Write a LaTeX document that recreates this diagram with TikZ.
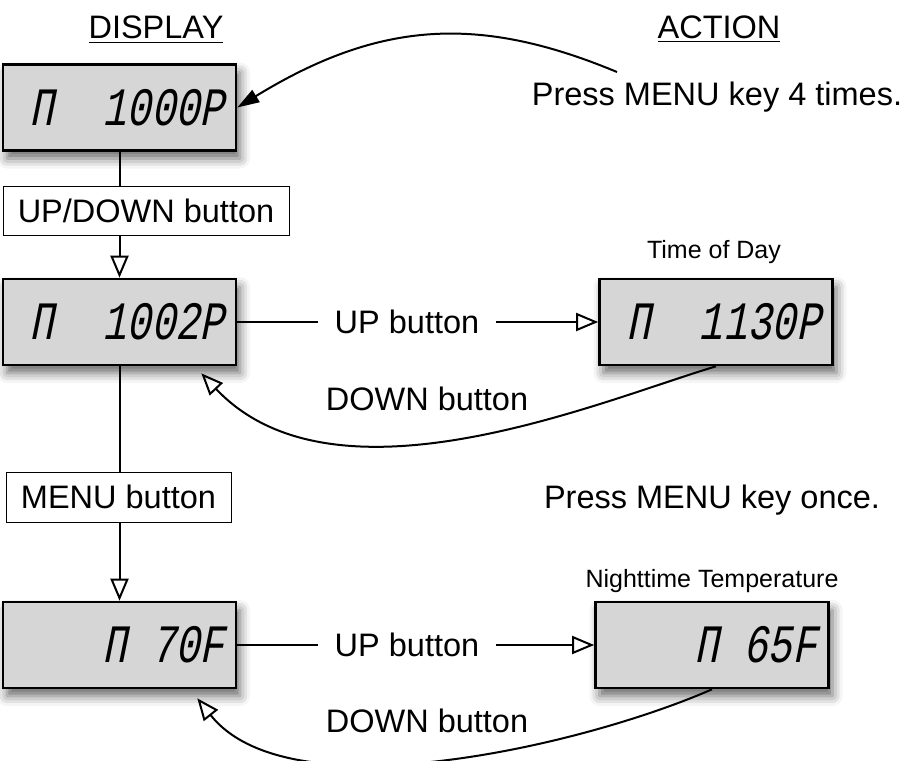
\documentclass[tikz,border=0pt]{standalone}
\usepackage{fontspec}
\setmainfont{Liberation Sans}
\newfontfamily\lcdfont[FakeSlant=0.2,FakeStretch=0.75]{Liberation Mono}
\usetikzlibrary{positioning,arrows.meta,shadows.blur}
\definecolor{lcdgray}{RGB}{214,214,214}

\begin{document}
\begin{tikzpicture}[x=0.5pt, y=-0.5pt, line width=1pt,
    lcd/.style={draw, line width=1.3pt, fill=lcdgray, minimum width=116.5pt, minimum height=43pt,
      text width=104.5pt, align=right, inner sep=0pt, font=\lcdfont\fontsize{27}{28}\selectfont,
      blur shadow={shadow xshift=2pt, shadow yshift=-4pt, shadow blur radius=5pt, shadow opacity=60}},
    btn/.style={draw, line width=0.5pt, fill=white, inner sep=0pt, font=\fontsize{16.25}{19}\selectfont},
    txt/.style={inner xsep=8pt, font=\fontsize{16.25}{19}\selectfont},
    small/.style={font=\fontsize{12.5}{15}\selectfont},
    openarr/.style={-{Triangle[open,length=11pt,width=9pt]}},
    solidarr/.style={-{Triangle[length=11pt,width=7pt]}}]
    \useasboundingbox (0,0) rectangle (904,760);

    \node[txt, anchor=base] (dtitle) at (156,39) {\underline{DISPLAY}};
    \node[txt, anchor=base] (atitle) at (719,38) {\underline{ACTION}};

    \node[lcd] (disp1) at (119.5,107.5) {Π\phantom{00}1000P};
    \node[lcd] (disp2) at (119.5,322) {Π\phantom{00}1002P};
    \node[lcd] (disp3) at (716,322) {Π\phantom{00}1130P};
    \node[lcd] (disp4) at (119.5,645) {Π\phantom{0}70F};
    \node[lcd] (disp5) at (712,645) {Π\phantom{0}65F};

    \node[btn, minimum width=143pt, minimum height=24.5pt] (updown) at (146,210.5) {UP/DOWN button};
    \node[btn, minimum width=112.5pt, minimum height=25pt] (menu) at (118.5,497) {MENU button};

    \node[txt] (upA) at (407,322) {UP button};
    \node[txt] (upB) at (407,645) {UP button};
    \node[txt, anchor=base] (downA) at (427,410) {DOWN button};
    \node[txt, anchor=base] (downB) at (427,732) {DOWN button};
    \node[small, anchor=base] (tod) at (714,258) {Time of Day};
    \node[small, anchor=base] (night) at (712,587) {Nighttime Temperature};
    \node[txt, anchor=base] (press4) at (717,105) {Press MENU key 4 times.};
    \node[txt, anchor=base] (press1) at (712,508) {Press MENU key once.};

    \coordinate (tail) at (617,72);
    \coordinate (ret1) at ([xshift=-18pt,yshift=-3.5pt]disp2.south east);
    \coordinate (ret2) at ([xshift=-20pt,yshift=-4.5pt]disp4.south east);

    \draw[solidarr] (tail) .. controls (480,15) and (380,20) .. (disp1.east);
    \draw (disp1.south) -- (disp1.south |- updown.north);
    \draw[openarr] (disp1.south |- updown.south) -- (disp2.north);
    \draw (disp2.south) -- (disp2.south |- menu.north);
    \draw[openarr] (disp2.south |- menu.south) -- (disp4.north);

    \draw (disp2) -- (upA);
    \draw[openarr] (upA) -- (disp3);
    \draw (disp4) -- (upB);
    \draw[openarr] (upB) -- (disp5);

    \draw[openarr] (disp3.south) .. controls (600,401) and (335,515) .. (ret1);
    \draw[openarr] (disp5.south) .. controls (585,745) and (290,815) .. (ret2);
\end{tikzpicture}
\end{document}
